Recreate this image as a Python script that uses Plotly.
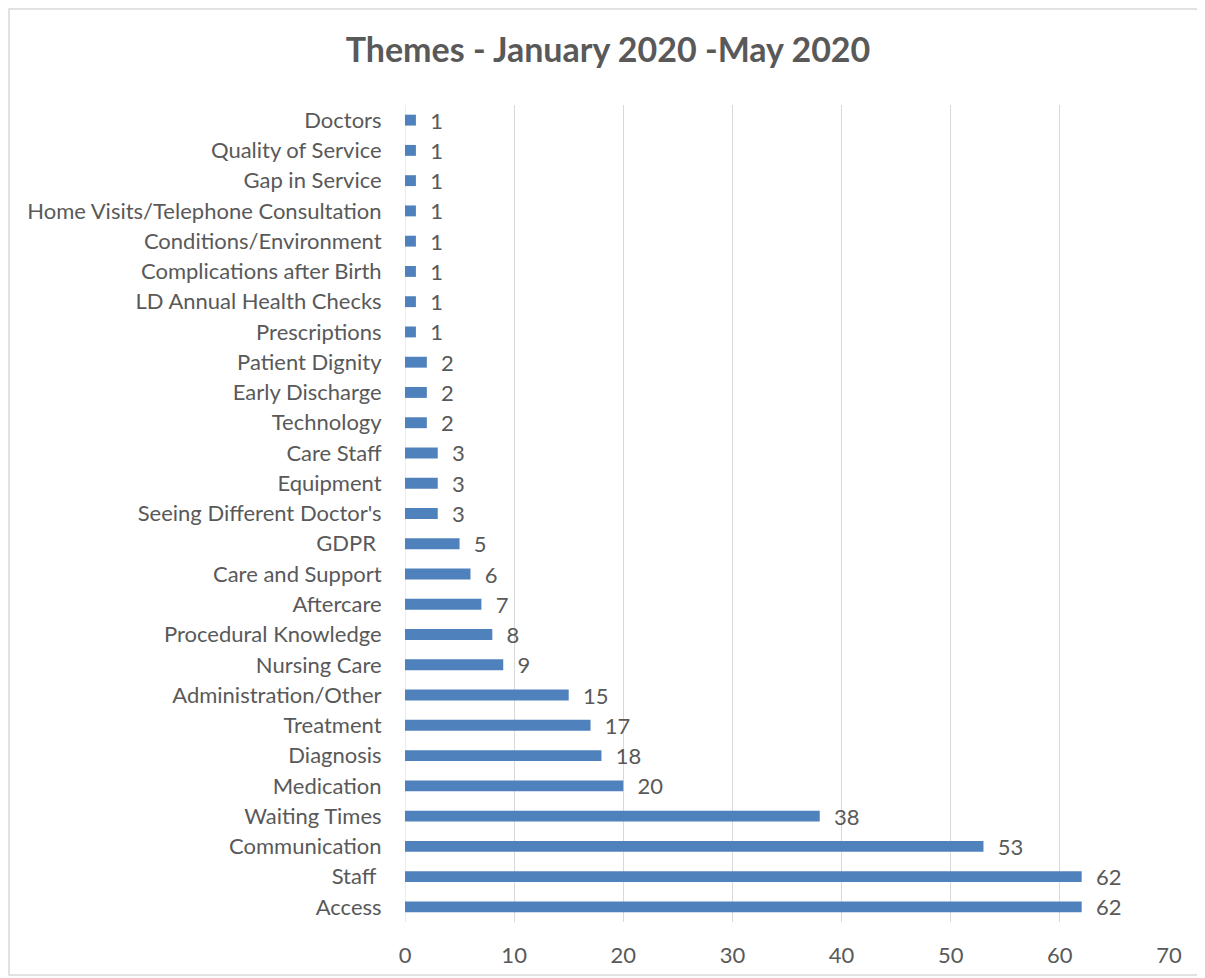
import plotly.graph_objects as go

categories = [
    "Access", "Staff\u00a0", "Communication", "Waiting Times", "Medication",
    "Diagnosis", "Treatment", "Administration/Other", "Nursing Care",
    "Procedural Knowledge", "Aftercare", "Care and Support", "GDPR\u00a0",
    "Seeing Different Doctor's", "Equipment", "Care Staff", "Technology",
    "Early Discharge", "Patient Dignity", "Prescriptions",
    "LD Annual Health Checks", "Complications after Birth",
    "Conditions/Environment", "Home Visits/Telephone Consultation",
    "Gap in Service", "Quality of Service", "Doctors",
]
values = [62, 62, 53, 38, 20, 18, 17, 15, 9, 8, 7, 6, 5, 3, 3, 3, 2, 2, 2,
          1, 1, 1, 1, 1, 1, 1, 1]
x_ticks = [0, 10, 20, 30, 40, 50, 60, 70]
title_text = "Themes - January 2020 -May 2020"

FONT = "Lato, 'Open Sans', sans-serif"
GREY = "#595959"
FS = 22

fig = go.Figure(go.Bar(
    x=values, y=categories, orientation="h",
    marker=dict(color="#4F81BD", line=dict(width=0)),
    text=values,
    texttemplate="\u00a0\u00a0%{x}",
    textposition="outside",
    constraintext="none",
    textfont=dict(family=FONT, size=FS, color=GREY),
    cliponaxis=False,
    width=0.36,
))

# page body has an 8px margin, so figure coords = reference coords - 8
W, H = 1197, 970
L, R, T, B = 397, 36, 97, 56
pw, ph = W - L - R, H - T - B

fig.update_layout(
    width=W, height=H,
    margin=dict(l=L, r=R, t=T, b=B, autoexpand=False),
    paper_bgcolor="white", plot_bgcolor="white",
    font=dict(family=FONT, size=FS, color=GREY),
    title=dict(text="<b>" + title_text + "</b>", x=600 / W, xanchor="center",
               y=1 - 42 / H, yanchor="middle", yref="container",
               font=dict(family=FONT, size=34, color=GREY)),
    showlegend=False,
    xaxis=dict(range=[0, 70], tickvals=x_ticks, showgrid=True,
               gridcolor="#D9D9D9", gridwidth=1, zeroline=False,
               showline=False, ticks="outside", ticklen=14,
               tickcolor="rgba(0,0,0,0)", automargin=False,
               tickfont=dict(family=FONT, size=FS, color=GREY)),
    yaxis=dict(type="category", categoryorder="array", categoryarray=categories,
               showgrid=False, zeroline=False, showline=False,
               ticks="outside", ticklen=18, tickcolor="rgba(0,0,0,0)",
               automargin=False,
               tickfont=dict(family=FONT, size=FS, color=GREY)),
    shapes=[dict(type="rect", xref="paper", yref="paper",
                 x0=(1 - L) / pw, x1=(1195 - L) / pw,
                 y0=(H - B - 967) / ph, y1=(H - B - 1) / ph,
                 line=dict(color="#D9D9D9", width=1.5), layer="below"),
            dict(type="line", xref="x", yref="paper", x0=0, x1=0, y0=0, y1=1,
                 line=dict(color="#D9D9D9", width=1), layer="below")],
)

fig.write_html("out.html")
